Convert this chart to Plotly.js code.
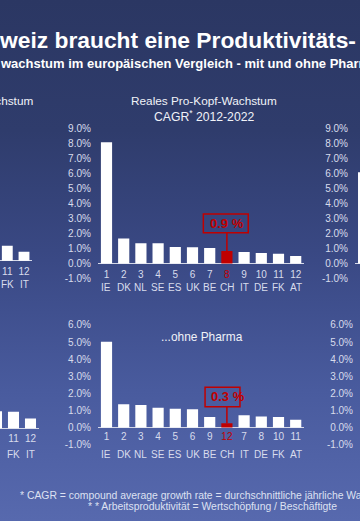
<!DOCTYPE html>
<html>
<head>
<meta charset="utf-8">
<script src="https://cdn.plot.ly/plotly-3.0.1.min.js"></script>
<style>
html,body{margin:0;padding:0;width:360px;height:521px;overflow:hidden;}
#chart{width:360px;height:521px;background:linear-gradient(180deg,#2b3763 0%,#2f3c6c 25%,#3a4985 50%,#495b9e 75%,#5769ae 100%);}
</style>
</head>
<body>
<div id="chart"></div>
<script>
// ---------- data ----------
const countriesTop = ['IE','DK','NL','SE','ES','UK','BE','CH','IT','DE','FK','AT'];
const ranksTop = ['1','2','3','4','5','6','7','8','9','10','11','12'];
const growthTop = [8.1,1.68,1.35,1.35,1.10,1.08,1.04,0.84,0.77,0.70,0.65,0.50];
const calloutTop = '0.9 %';

const countriesBottom = ['IE','DK','NL','SE','ES','UK','BE','CH','IT','DE','FK','AT'];
const ranksBottom = ['1','2','3','4','5','6','9','12','7','8','10','11'];
const growthBottom = [5.02,1.36,1.32,1.16,1.10,1.06,0.61,0.25,0.71,0.65,0.61,0.46];
const calloutBottom = '0.3 %';

const leftTopCountries = ['FK','IT'];
const leftTopRanks = ['11','12'];
const leftTopValues = [1.0,0.6];

const leftBottomCountries = ['DE','FK','IT'];
const leftBottomRanks = ['10','11','12'];
const leftBottomValues = [1.0,0.97,0.58];

const rightTopCountries = ['IE'];
const rightTopRanks = ['1'];
const rightTopValues = [6.1];

const yTicksTop = [-1,0,1,2,3,4,5,6,7,8,9];
const yTickTextTop = ['-1.0%','0.0%','1.0%','2.0%','3.0%','4.0%','5.0%','6.0%','7.0%','8.0%','9.0%'];
const yTicksBottom = [-1,0,1,2,3,4,5,6];
const yTickTextBottom = ['-1.0%','0.0%','1.0%','2.0%','3.0%','4.0%','5.0%','6.0%'];

const headline = 'weiz braucht eine Produktivitäts-';
const subline = 'wachstum im europäischen Vergleich - mit und ohne Pharma';
const titleTop1 = 'Reales Pro-Kopf-Wachstum';
const titleTop2 = 'CAGR<sup>*</sup> 2012-2022';
const titleBottom = '...ohne Pharma';
const titleLeft = 'Wachstum';
const note1 = '* CAGR = compound average growth rate = durchschnittliche jährliche Wachstumsrate';
const note2 = '* * Arbeitsproduktivität = Wertschöpfung / Beschäftigte';

// ---------- style ----------
const W = 360, H = 521;
const px = x => x / W;
const py = y => 1 - y / H;
const RED = '#c00000';
const WHITE = '#ffffff';
const TICK = '#d8dcec';
const TXT = '#f0f2f8';
const tickFont = {family:'"Liberation Sans Narrow", "Liberation Sans", sans-serif', size:10, color:TICK};
const titleFont = {family:'"Liberation Sans", Arial, sans-serif', size:11.8, color:TXT};

function colorsFor(cats){ return cats.map(c => c === 'CH' ? RED : WHITE); }
function tickTextFor(cats, ranks){ return ranks.map((r,i) => cats[i] === 'CH' ? '<span style="color:'+RED+'">'+r+'</span>' : r); }

function barTrace(cats, vals, xa, ya){
  return {type:'bar', x:cats, y:vals, xaxis:xa, yaxis:ya,
    marker:{color:colorsFor(cats), line:{width:0}}, hoverinfo:'skip', showlegend:false};
}

const data = [
  barTrace(countriesTop, growthTop, 'x', 'y'),
  barTrace(countriesBottom, growthBottom, 'x2', 'y2'),
  barTrace(leftTopCountries, leftTopValues, 'x3', 'y3'),
  barTrace(leftBottomCountries, leftBottomValues, 'x4', 'y4'),
  barTrace(rightTopCountries, rightTopValues, 'x5', 'y5'),
  {type:'bar', x:[], y:[], xaxis:'x6', yaxis:'y6', showlegend:false, hoverinfo:'skip'}
];

function xAx(dom, range, zeroPx, cats, ranks, standoff){
  return {domain:[px(dom[0]), px(dom[1])], range:range, type:'category', anchor:'free', position:py(zeroPx),
    showline:false, showgrid:false, zeroline:false, ticks:'', tickvals:cats, ticktext:tickTextFor(cats, ranks),
    tickfont:tickFont, ticklabelstandoff:standoff, fixedrange:true};
}
function yAx(dom, range, anchor, tv, tt, standoff, zl){
  return {domain:[py(dom[0]), py(dom[1])], range:range, anchor:anchor, showgrid:false, showline:false,
    zeroline:zl, zerolinecolor:'#d4d8e8', zerolinewidth:1.5, ticks:'', tickvals:tv, ticktext:tt,
    tickfont:tickFont, ticklabelstandoff:standoff, fixedrange:true};
}

const layout = {
  width:W, height:H, margin:{l:0,r:0,t:0,b:0},
  paper_bgcolor:'rgba(0,0,0,0)', plot_bgcolor:'rgba(0,0,0,0)',
  bargap:0.35, showlegend:false,
  xaxis: xAx([97.9,304.3], [-0.5,11.5], 263.5, countriesTop, ranksTop, 3),
  yaxis: yAx([278.5,128.8], [-1,9], 'x', yTicksTop, yTickTextTop, 6, true),
  xaxis2: xAx([97.9,304.3], [-0.5,11.5], 427.5, countriesBottom, ranksBottom, 1),
  yaxis2: yAx([444.6,324.9], [-1,6], 'x2', yTicksBottom, yTickTextBottom, 6, true),
  xaxis3: xAx([0,32.35], [-0.437,1.5], 260.7, leftTopCountries, leftTopRanks, 3),
  yaxis3: Object.assign(yAx([275.7,125.7], [-1,9], 'x3', yTicksTop, yTickTextTop, 6, true), {showticklabels:false}),
  xaxis4: xAx([0,39], [0.206,2.5], 428.3, leftBottomCountries, leftBottomRanks, 3),
  yaxis4: Object.assign(yAx([445.4,325.7], [-1,6], 'x4', yTicksBottom, yTickTextBottom, 6, true), {showticklabels:false}),
  xaxis5: xAx([355,360], [-0.5,-0.209], 263.5, rightTopCountries, rightTopRanks, 3),
  yaxis5: yAx([278.5,128.8], [-1,9], 'x5', yTicksTop, yTickTextTop, 6, true),
  xaxis6: {domain:[px(359), 1], range:[-0.5,0.5], anchor:'y6', visible:false, fixedrange:true},
  yaxis6: yAx([444.6,324.9], [-1,6], 'x6', yTicksBottom, yTickTextBottom, 5, false),
  shapes:[], annotations:[]
};

const A = layout.annotations, S = layout.shapes;
function paperText(text, x, y, font, xanchor){
  A.push({text:text, xref:'paper', yref:'paper', x:px(x), y:py(y), xanchor:xanchor||'center', yanchor:'middle',
    showarrow:false, font:font, borderpad:0});
}
// headings
paperText(headline, -2, 40, {family:'"Liberation Sans", Arial, sans-serif', size:22.8, color:'#ffffff', weight:700}, 'left');
paperText(subline, -1, 63, {family:'"Liberation Sans", Arial, sans-serif', size:13, color:'#ffffff', weight:700}, 'left');
paperText(titleTop1, 204, 101, titleFont);
paperText(titleTop2, 203.5, 116, Object.assign({}, titleFont, {size:12.2}));
paperText(titleBottom, 202, 337, Object.assign({}, titleFont, {size:11.9}));
paperText(titleLeft, 34, 101, titleFont, 'right');
paperText(note1, 19, 495, {family:'"Liberation Sans", Arial, sans-serif', size:10.4, color:'#dde1f2'}, 'left');
paperText(note2, 212.5, 506, {family:'"Liberation Sans", Arial, sans-serif', size:10.4, color:'#dde1f2'});

// country label rows
function countryRow(cats, xa, yPx){
  cats.forEach(c => A.push({text:c, xref:xa, yref:'paper', x:c, y:py(yPx), showarrow:false,
    yanchor:'middle', font:tickFont, borderpad:0}));
}
countryRow(countriesTop, 'x', 287);
countryRow(countriesBottom, 'x2', 454);
countryRow(leftTopCountries, 'x3', 284.5);
countryRow(leftBottomCountries, 'x4', 454);

// callouts for CH
function callout(cats, vals, label, xa, ya, dxl, dxr, yb, yt, dxt){
  const i = cats.indexOf('CH');
  S.push({type:'rect', xref:xa, yref:ya, x0:i-dxl, x1:i+dxr, y0:yb, y1:yt, line:{color:RED, width:1.5}, fillcolor:'rgba(0,0,0,0)'});
  S.push({type:'line', xref:xa, yref:ya, x0:i, x1:i, y0:vals[i], y1:yb, line:{color:RED, width:1.5}});
  A.push({text:label, xref:xa, yref:ya, x:i+dxt, y:(yb+yt)/2, showarrow:false, yanchor:'middle',
    font:{family:'"Liberation Sans", Arial, sans-serif', size:13, color:RED, weight:700}, borderpad:0});
}
callout(countriesTop, growthTop, calloutTop, 'x', 'y', 1.37, 1.24, 2.06, 3.31, 0);
callout(countriesBottom, growthBottom, calloutBottom, 'x2', 'y2', 1.27, 0.76, 1.22, 2.35, 0.06);

Plotly.newPlot('chart', data, layout, {displayModeBar:false, staticPlot:true});
</script>
</body>
</html>
